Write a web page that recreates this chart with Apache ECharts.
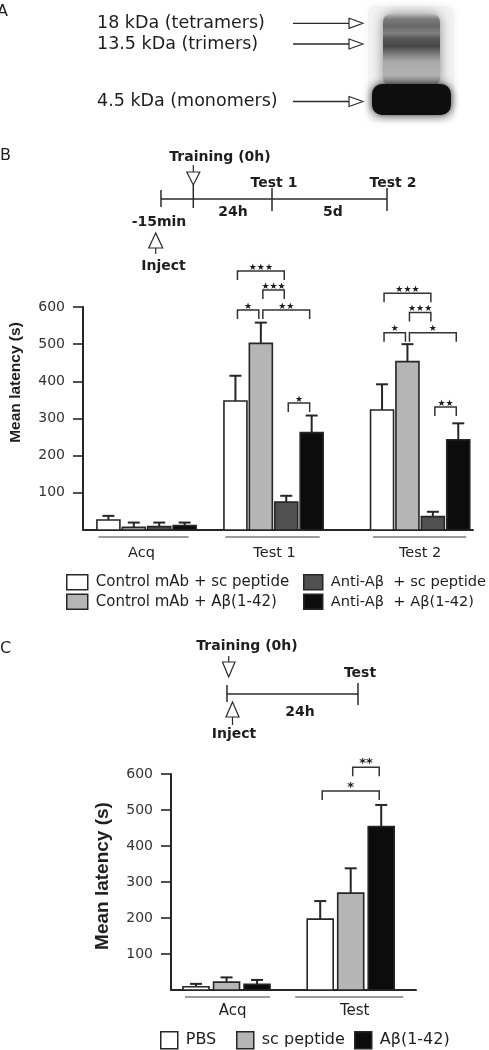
<!DOCTYPE html>
<html><head><meta charset="utf-8">
<script src="https://cdn.jsdelivr.net/npm/echarts@6/dist/echarts.min.js"></script>
<style>html,body{margin:0;padding:0;background:#fff}#c{width:489px;height:1050px}</style>
</head><body><div id="c"></div>
<script>
// ================= DATA =================
// Panel A labels
const blotLabels = ['18 kDa (tetramers)', '13.5 kDa (trimers)', '4.5 kDa (monomers)'];
// Panel B
const bGroups = ['Acq', 'Test 1', 'Test 2'];
const bNames = ['Control mAb + sc peptide', 'Control mAb + A\u03b2(1-42)', 'Anti-A\u03b2  + sc peptide', 'Anti-A\u03b2  + A\u03b2(1-42)'];
const bCtrlSc    = [27, 347, 323];
const bCtrlAb    = [7, 502, 453];
const bAntiSc    = [9, 75, 36];
const bAntiAb    = [12, 262, 243];
const bCtrlScErr = [11, 68, 69];
const bCtrlAbErr = [13, 56, 47];
const bAntiScErr = [11, 17, 13];
const bAntiAbErr = [8, 46, 44];
// significance brackets: [group, barA, barB, level (s), label]
const bBrackets = [
  [1, 0, 2, 697, '\u2605\u2605\u2605'], [1, 1, 2, 646, '\u2605\u2605\u2605'], [1, 0, 1, 592, '\u2605'],
  [1, 1, 3, 592, '\u2605\u2605'], [1, 2, 3, 342, '\u2605'],
  [2, 0, 2, 637, '\u2605\u2605\u2605'], [2, 1, 2, 585, '\u2605\u2605\u2605'], [2, 0, 1, 531, '\u2605'],
  [2, 1, 3, 531, '\u2605'], [2, 2, 3, 331, '\u2605\u2605']
];
// Panel C
const cGroups = ['Acq', 'Test'];
const cNames = ['PBS', 'sc peptide', 'A\u03b2(1-42)'];
const cPBS     = [9, 197];
const cSc      = [22, 269];
const cAb      = [16, 454];
const cPBSErr  = [8, 50];
const cScErr   = [13, 69];
const cAbErr   = [12, 60];
const cBrackets = [
  [1, 1, 2, 619, '**'], [1, 0, 2, 553, '*']
];
const yTicks = [100, 200, 300, 400, 500, 600];

// ================= LAYOUT / STYLE =================
const F = 'DejaVu Sans';
const EDGE = '#262626';
const bFills = ['#ffffff', '#b5b5b5', '#505050', '#0c0c0c'];
const cFills = ['#ffffff', '#b5b5b5', '#0c0c0c'];
const bGroupStart = [1, 6, 11.77];      // slot of first bar in each group
const cGroupStart = [0.82, 4.89];
const bLineExt = [[-10, 4], [-10, 8], [-9, 8]];
const cLineExt = [[-11, 13], [-25, 22]];
const bLabelDx = [-5, 1, 0];
const cLabelDx = [6, 4];

function makeBarSeries(name, vals, errs, barIdx, gStart, axIdx, fill, w) {
  return {
    type: 'custom', name: name, xAxisIndex: axIdx, yAxisIndex: axIdx, z: 3,
    itemStyle: {color: fill, borderColor: EDGE, borderWidth: 1.6},
    encode: {x: 0, y: 1},
    data: vals.map((v, g) => [gStart[g] + barIdx, v, errs[g]]),
    renderItem: function (params, api) {
      const x = api.value(0), v = api.value(1), e = api.value(2);
      const base = api.coord([x, 0]), top = api.coord([x, v]), et = api.coord([x, v + e]);
      const cx = base[0];
      return {type: 'group', children: [
        {type: 'line', shape: {x1: cx, y1: top[1], x2: cx, y2: et[1]}, style: {stroke: EDGE, lineWidth: 2}},
        {type: 'line', shape: {x1: cx - 6, y1: et[1], x2: cx + 6, y2: et[1]}, style: {stroke: EDGE, lineWidth: 2}},
        {type: 'rect', shape: {x: cx - w / 2, y: top[1], width: w, height: base[1] - top[1]},
          style: {fill: fill, stroke: EDGE, lineWidth: 1.6}}
      ]};
    }
  };
}

function makeGroupSeries(labels, gStart, n, ext, axIdx, fontSize, labelDy, labelDx) {
  return {
    type: 'custom', xAxisIndex: axIdx, yAxisIndex: axIdx, silent: true,
    data: labels.map((l, g) => [gStart[g], 0]),
    renderItem: function (params, api) {
      const g = params.dataIndex;
      const a = api.coord([gStart[g], 0]), b = api.coord([gStart[g] + n - 1, 0]);
      const y = a[1];
      return {type: 'group', children: [
        {type: 'line', shape: {x1: a[0] + ext[g][0], y1: y + 7, x2: b[0] + ext[g][1], y2: y + 7},
          style: {stroke: '#7a7a7a', lineWidth: 1.5}},
        {type: 'text', x: (a[0] + b[0]) / 2 + labelDx[g], y: y + labelDy,
          style: {text: labels[g], font: fontSize + 'px "' + F + '"', fill: '#222',
            align: 'center', verticalAlign: 'middle', textAlign: 'center', textVerticalAlign: 'middle'}}
      ]};
    }
  };
}

function makeBracketSeries(list, gStart, axIdx, font, starDy) {
  return {
    type: 'custom', xAxisIndex: axIdx, yAxisIndex: axIdx, silent: true, z: 4,
    data: list.map(b => [gStart[b[0]] + b[1], b[3], gStart[b[0]] + b[2]]),
    renderItem: function (params, api) {
      const p = api.coord([api.value(0), api.value(1)]), q = api.coord([api.value(2), api.value(1)]);
      const x1 = p[0] + 2, x2 = q[0] - 2, y = p[1];
      return {type: 'group', children: [
        {type: 'polyline', shape: {points: [[x1, y + 9], [x1, y], [x2, y], [x2, y + 9]]},
          style: {stroke: '#333', lineWidth: 1.5, fill: null}},
        {type: 'text', x: (x1 + x2) / 2, y: y + starDy,
          style: {text: list[params.dataIndex][4], font: font, fill: '#1a1a1a',
            align: 'center', verticalAlign: 'bottom', textAlign: 'center', textVerticalAlign: 'bottom'}}
      ]};
    }
  };
}

function yAx(gridIndex, nameSize, shiftUp) {
  return {
    type: 'value', gridIndex: gridIndex, min: 0, max: 600, interval: 100,
    name: 'Mean latency (s)', nameLocation: 'middle', nameGap: 59, nameRotate: 90,
    nameTextStyle: {fontFamily: 'Liberation Sans', fontWeight: 'bold', fontSize: nameSize, color: '#1e1e1e',
      padding: [0, 0, 0, shiftUp * 2]},
    axisLine: {show: true, lineStyle: {color: EDGE, width: 2}},
    axisTick: {show: true, length: 10, customValues: yTicks, lineStyle: {color: EDGE, width: 1.6}},
    axisLabel: {customValues: yTicks, fontFamily: F, fontSize: 14, color: '#333', margin: 18},
    splitLine: {show: false}
  };
}
function xAx(gridIndex, max) {
  return {
    type: 'value', gridIndex: gridIndex, min: 0, max: max,
    axisLine: {show: true, lineStyle: {color: EDGE, width: 2}},
    axisTick: {show: false}, axisLabel: {show: false}, splitLine: {show: false}
  };
}

// ---------- graphic helpers ----------
function T(text, x, y, size, bold, align) {
  return {type: 'text', x: x, y: y, silent: true, style: {
    text: text, font: (bold ? 'bold ' : '') + size + 'px "' + F + '"', fill: '#1e1e1e',
    align: align || 'center', verticalAlign: 'middle', textAlign: align || 'center', textVerticalAlign: 'middle'}};
}
function L(x1, y1, x2, y2, w) {
  return {type: 'line', silent: true, shape: {x1: x1, y1: y1, x2: x2, y2: y2}, style: {stroke: '#2a2a2a', lineWidth: w || 1.5}};
}
function Tri(pts) {
  return {type: 'polygon', silent: true, shape: {points: pts}, style: {fill: '#fff', stroke: '#2a2a2a', lineWidth: 1.2}};
}
function Arrow(x1, x2, y) {
  return [L(x1, y, x2 - 13, y, 1.3), Tri([[x2 - 14, y - 5], [x2, y], [x2 - 14, y + 5]])];
}

const graphics = [];
// panel letters
graphics.push(T('A', -3, 12, 16, false, 'left'), T('B', 0, 156, 16, false, 'left'), T('C', 0, 649, 16, false, 'left'));
// panel A text
const aY = [23.3, 44, 101.5];
blotLabels.forEach((t, i) => graphics.push(T(t, 97, aY[i], 17.5, false, 'left')));
aY.forEach(y => graphics.push(...Arrow(293, 363, y)));
// blot
graphics.push({type: 'rect', silent: true, shape: {x: 368, y: 6, width: 86, height: 116, r: 8},
  style: {fill: '#f1f1f1', shadowBlur: 10, shadowColor: '#f1f1f1'}});
graphics.push({type: 'rect', silent: true, shape: {x: 383, y: 14, width: 57, height: 72, r: 8},
  style: {fill: {type: 'linear', x: 0, y: 0, x2: 0, y2: 1, colorStops: [
    {offset: 0, color: '#b8b8b8'}, {offset: 0.07, color: '#7c7c7c'}, {offset: 0.17, color: '#686868'},
    {offset: 0.27, color: '#808080'}, {offset: 0.34, color: '#575757'}, {offset: 0.45, color: '#474747'},
    {offset: 0.55, color: '#7a7a7a'}, {offset: 0.66, color: '#a8a8a8'}, {offset: 0.85, color: '#b2b2b2'},
    {offset: 1, color: '#8a8a8a'}]},
    shadowBlur: 12, shadowColor: 'rgba(110,110,110,0.8)'}});
graphics.push({type: 'rect', silent: true, shape: {x: 372, y: 84, width: 79, height: 31, r: 10},
  style: {fill: '#0e0e0e', shadowBlur: 9, shadowColor: 'rgba(20,20,20,0.95)'}});

// panel B timeline
graphics.push(L(161, 199, 387, 199), L(161, 190, 161, 207), L(193.3, 185, 193.3, 208),
  L(272, 188, 272, 211), L(387, 188, 387, 211));
graphics.push(L(193.3, 165, 193.3, 172, 1.2), Tri([[186.8, 172], [199.8, 172], [193.3, 185]]));
graphics.push(L(155.7, 248, 155.7, 254, 1.2), Tri([[155.7, 233], [148.7, 248], [162.7, 248]]));
graphics.push(T('Training (0h)', 220, 157, 14, true), T('Test 1', 274, 183, 14, true), T('Test 2', 393, 183, 14, true),
  T('24h', 233, 212, 14, true), T('5d', 333, 212, 14, true), T('-15min', 159, 222, 14, true), T('Inject', 163.5, 266, 14, true));
// panel C timeline
graphics.push(L(227, 694, 358, 694), L(227, 685, 227, 702), L(358, 683, 358, 705));
graphics.push(L(228.7, 656, 228.7, 662, 1.2), Tri([[222.5, 662], [235, 662], [228.7, 677]]));
graphics.push(L(232.5, 717, 232.5, 725, 1.2), Tri([[232.5, 702], [226, 717], [239, 717]]));
graphics.push(T('Training (0h)', 247, 646, 14, true), T('Test', 360, 673, 14, true),
  T('24h', 300, 712, 14, true), T('Inject', 234, 734, 14, true));

// ---------- series ----------
const bVals = [bCtrlSc, bCtrlAb, bAntiSc, bAntiAb];
const bErrs = [bCtrlScErr, bCtrlAbErr, bAntiScErr, bAntiAbErr];
const cVals = [cPBS, cSc, cAb];
const cErrs = [cPBSErr, cScErr, cAbErr];
const series = [];
bNames.forEach((n, i) => series.push(makeBarSeries(n, bVals[i], bErrs[i], i, bGroupStart, 0, bFills[i], 23)));
series.push(makeGroupSeries(bGroups, bGroupStart, 4, bLineExt, 0, 14.5, 23, bLabelDx));
series.push(makeBracketSeries(bBrackets, bGroupStart, 0, '9px "' + F + '"', 1));
cNames.forEach((n, i) => series.push(makeBarSeries(n, cVals[i], cErrs[i], i, cGroupStart, 1, cFills[i], 26)));
series.push(makeGroupSeries(cGroups, cGroupStart, 3, cLineExt, 1, 15, 21, cLabelDx));
series.push(makeBracketSeries(cBrackets, cGroupStart, 1, 'bold 13px "' + F + '"', 3));

function legendItem(name, fill) {
  return {name: name, icon: 'rect', itemStyle: {color: fill, borderColor: EDGE, borderWidth: 1.5}};
}
const legText = (size) => ({fontFamily: F, fontSize: size, color: '#1e1e1e', lineHeight: size, padding: [0, 0, 0, 3]});
const legends = [
  {left: 66, top: 574, padding: 0, orient: 'vertical', itemGap: 3, itemWidth: 21, itemHeight: 15, selectedMode: false,
    data: [legendItem(bNames[0], bFills[0]), legendItem(bNames[1], bFills[1])], textStyle: legText(15)},
  {left: 303, top: 574, padding: 0, orient: 'vertical', itemGap: 3, itemWidth: 19, itemHeight: 15, selectedMode: false,
    data: [legendItem(bNames[2], bFills[2]), legendItem(bNames[3], bFills[3])], textStyle: legText(14.6)},
  {left: 160, top: 1031, padding: 0, itemWidth: 17, itemHeight: 17, selectedMode: false,
    data: [legendItem(cNames[0], cFills[0])], textStyle: legText(16)},
  {left: 236, top: 1031, padding: 0, itemWidth: 17, itemHeight: 17, selectedMode: false,
    data: [legendItem(cNames[1], cFills[1])], textStyle: legText(16)},
  {left: 354, top: 1031, padding: 0, itemWidth: 17, itemHeight: 17, selectedMode: false,
    data: [legendItem(cNames[2], cFills[2])], textStyle: legText(16)}
];

const chart = echarts.init(document.getElementById('c'), null, {renderer: 'canvas', width: 489, height: 1050});
chart.setOption({
  animation: false,
  backgroundColor: '#ffffff',
  textStyle: {fontFamily: F},
  grid: [
    {left: 77, top: 307, width: 396, height: 223},
    {left: 171, top: 774, width: 245, height: 216}
  ],
  xAxis: [xAx(0, 15.35), xAx(1, 8.03)],
  yAxis: [yAx(0, 15.5, 36), yAx(1, 19, 6)],
  legend: legends,
  graphic: {elements: graphics},
  series: series
});
</script>
</body></html>
